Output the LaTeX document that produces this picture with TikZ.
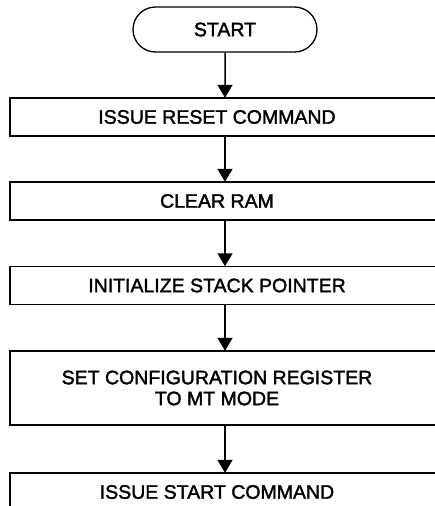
\documentclass[tikz,border=0pt]{standalone}
\usepackage{fontspec}
\setmainfont{Liberation Sans}
\newfontfamily\stepfont[FakeBold=1.8]{Liberation Sans}
\usetikzlibrary{arrows.meta}
\usetikzlibrary{shapes.misc}

\begin{document}
\begin{tikzpicture}[x=1pt,y=-1pt,
    every node/.style={font=\stepfont\fontsize{19.5}{21}\selectfont},
    terminal/.style={draw,line width=1.3pt,rounded rectangle,minimum width=184pt,minimum height=45pt,inner sep=0pt},
    stepbox/.style={rectangle,minimum width=414pt,minimum height=38pt,inner sep=0pt,align=center,
        append after command={\pgfextra{\draw[line width=1.5pt] (\tikzlastnode.south west) rectangle ([xshift=40pt]\tikzlastnode.north east);}}},
    flow/.style={line width=1.5pt,-{Triangle[length=13pt,width=15pt]}}]
    \useasboundingbox (0,0) rectangle (435,506);

    \node[terminal] (start) at (225,29.5) {START};

    \node[stepbox] (reset) at (217,117) {ISSUE RESET COMMAND};
    \node[stepbox] (ram) at (217,201) {CLEAR RAM};
    \node[stepbox] (stack) at (217,285.5) {INITIALIZE STACK POINTER};
    \node[stepbox,minimum height=74pt] (config) at (217,388) {SET CONFIGURATION REGISTER\\TO MT MODE};
    \node[stepbox] (issue) at (217,492) {ISSUE START COMMAND};

    % arrows stay under the START node
    \draw[flow] (start) -- (start |- reset.north);
    \draw[flow] (start |- reset.south) -- (start |- ram.north);
    \draw[flow] (start |- ram.south) -- (start |- stack.north);
    \draw[flow] (start |- stack.south) -- (start |- config.north);
    \draw[flow] (start |- config.south) -- (start |- issue.north);
\end{tikzpicture}
\end{document}
